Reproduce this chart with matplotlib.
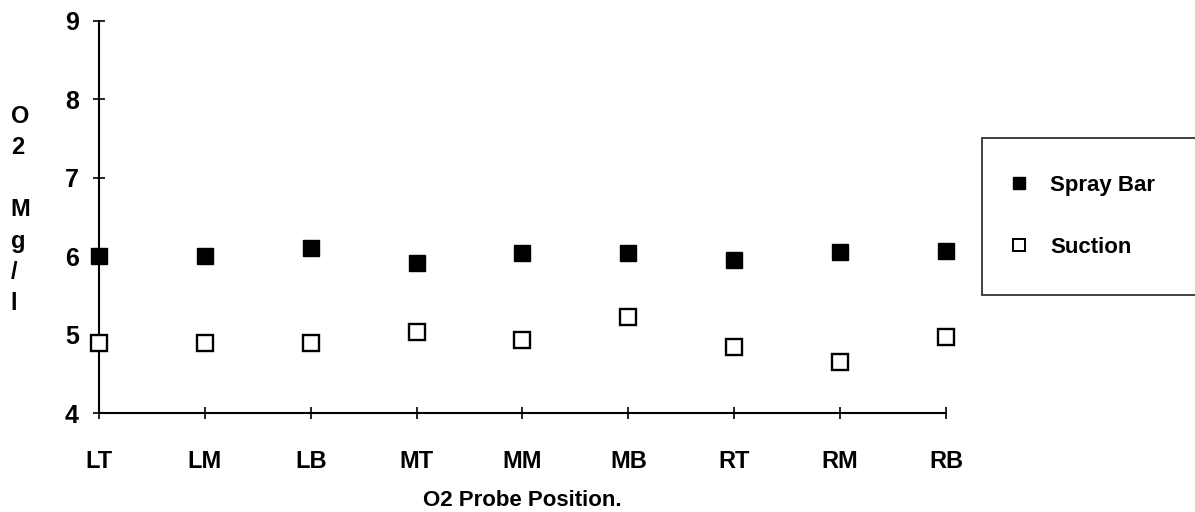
import matplotlib as mpl
mpl.use('Agg')
import matplotlib.pyplot as plt
from matplotlib.lines import Line2D

# data
positions = ['LT', 'LM', 'LB', 'MT', 'MM', 'MB', 'RT', 'RM', 'RB']
spray_bar = [6.00, 6.00, 6.10, 5.92, 6.04, 6.04, 5.95, 6.06, 6.07]
suction = [4.89, 4.89, 4.90, 5.03, 4.93, 5.23, 4.85, 4.65, 4.97]
yticks = [4, 5, 6, 7, 8, 9]

plt.rcParams['font.family'] = ['Liberation Sans', 'DejaVu Sans']
plt.rcParams['font.weight'] = 'bold'
plt.rcParams['axes.labelweight'] = 'bold'

fig = plt.figure(figsize=(11.95, 5.12), dpi=100)
ax = fig.add_axes([0.0828, 0.193, 0.7088, 0.766])

x = list(range(len(positions)))
ax.plot(x, spray_bar, linestyle='none', marker='s', markersize=11.5,
        markerfacecolor='black', markeredgecolor='black', clip_on=False, zorder=3)
ax.plot(x, suction, linestyle='none', marker='s', markersize=11.5,
        markerfacecolor='white', markeredgecolor='black', markeredgewidth=1.7,
        clip_on=False, zorder=3)

ax.set_xlim(0, len(positions) - 1)
ax.set_ylim(4, 9)
ax.set_xticks(x)
ax.set_xticklabels(positions, fontsize=17)
ax.set_yticks(yticks)
ax.set_yticklabels([str(v) for v in yticks], fontsize=18)

for s in ['top', 'right']:
    ax.spines[s].set_visible(False)
for s in ['left', 'bottom']:
    ax.spines[s].set_linewidth(1.5)

ax.tick_params(axis='both', direction='inout', length=9, width=1.2)
ax.tick_params(axis='x', pad=22)
ax.tick_params(axis='y', pad=10)

ax.set_xlabel('O2 Probe Position.', fontsize=16, labelpad=12)

# stacked y label
fig.text(0.009, 0.59, 'O\n2\n\nM\ng\n/\nl', fontsize=17, ha='left', va='center',
         linespacing=1.45)

handles = [
    Line2D([], [], linestyle='none', marker='s', markersize=9,
           markerfacecolor='black', markeredgecolor='black'),
    Line2D([], [], linestyle='none', marker='s', markersize=9,
           markerfacecolor='white', markeredgecolor='black', markeredgewidth=1.4),
]
leg = fig.legend(handles, ['Spray Bar', 'Suction'], loc='upper left',
                 bbox_to_anchor=(0.822, 0.443, 0.25, 0.287), mode='expand',
                 borderaxespad=0, prop={'size': 16, 'weight': 'bold'},
                 frameon=True, fancybox=False, edgecolor='black',
                 labelspacing=1.85, handletextpad=1.4, borderpad=1.65,
                 handlelength=0.0)
leg.get_frame().set_linewidth(1.3)

fig.savefig('out.png', dpi=100)
